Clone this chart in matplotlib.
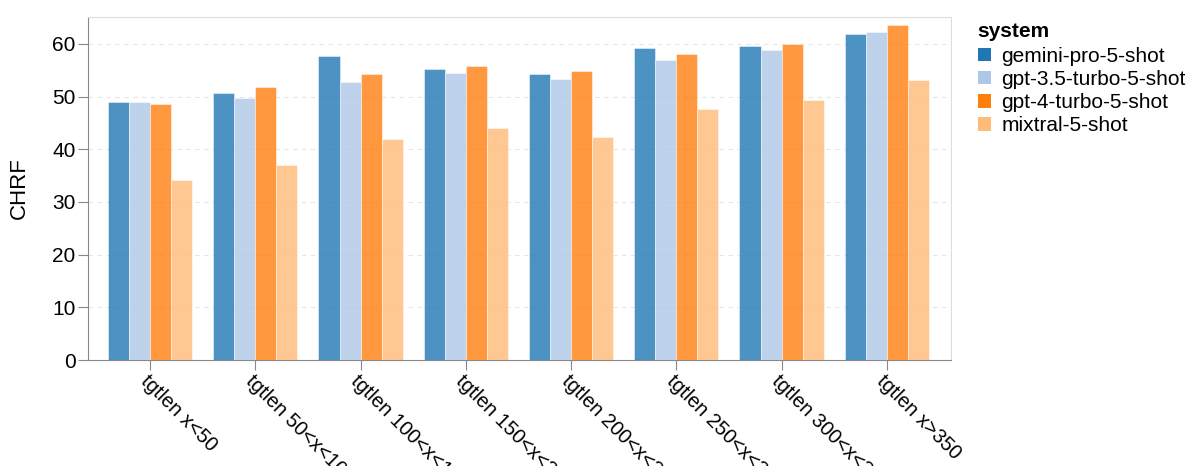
import matplotlib.pyplot as plt
import numpy as np

plt.rcParams['font.family'] = ['Liberation Sans', 'DejaVu Sans']

groups = ['tgtlen x<50', 'tgtlen 50<x<100', 'tgtlen 100<x<150', 'tgtlen 150<x<200',
          'tgtlen 200<x<250', 'tgtlen 250<x<300', 'tgtlen 300<x<350', 'tgtlen x>350']
systems = ['gemini-pro-5-shot', 'gpt-3.5-turbo-5-shot', 'gpt-4-turbo-5-shot', 'mixtral-5-shot']
colors = ['#1f77b4', '#aec7e8', '#ff7f0e', '#ffbb78']

gemini = [49.0, 50.6, 57.7, 55.2, 54.3, 59.3, 59.6, 61.9]
gpt35 = [49.0, 49.8, 52.7, 54.4, 53.4, 57.0, 58.9, 62.2]
gpt4 = [48.5, 51.9, 54.3, 55.8, 54.9, 58.1, 60.0, 63.5]
mixtral = [34.2, 37.1, 42.0, 44.1, 42.4, 47.6, 49.3, 53.1]
values = [gemini, gpt35, gpt4, mixtral]

fig = plt.figure(figsize=(11.96, 4.66), dpi=100)
ax = fig.add_axes([88/1196, 106/466, 863/1196, 343/466])

x = np.arange(len(groups))
w = 0.2
for i, (name, vals) in enumerate(zip(systems, values)):
    ax.bar(x + (i - 1.5) * w, vals, width=w, color=colors[i], alpha=0.8,
           edgecolor='white', linewidth=0.4, label=name, zorder=3)

ax.set_xlim(-0.59, len(groups) - 0.39)
ax.set_ylim(0, 65.1)
ax.set_yticks(range(0, 61, 10))
ax.yaxis.grid(True, linestyle=(0, (4, 4)), color='#e6e6e6', linewidth=0.8, zorder=0)
ax.set_xticks(x)
ax.set_xticklabels(groups, rotation=-45, ha='left', va='top', rotation_mode='anchor')
ax.tick_params(axis='both', labelsize=15, color='#888888', length=7, width=0.8, pad=2)
ax.tick_params(axis='x', labelsize=14.5, pad=1)
ax.set_ylabel('CHRF', fontsize=16, labelpad=16)

ax.spines['left'].set_color('#888888')
ax.spines['bottom'].set_color('#888888')
ax.spines['top'].set_color('#dddddd')
ax.spines['right'].set_color('#dddddd')

leg = ax.legend(loc='upper left', bbox_to_anchor=(1.031, 0.985), frameon=False,
                title='system', fontsize=15, handlelength=0.63, handleheight=0.63,
                handletextpad=0.5, labelspacing=0.2, borderaxespad=0, borderpad=0)
leg.get_title().set_fontweight('bold')
leg.get_title().set_fontsize(15)
leg._legend_box.align = 'left'
leg._legend_box.sep = 4
for h in leg.legend_handles:
    h.set_alpha(1.0)
    h.set_edgecolor('none')

fig.savefig('out.png', dpi=100)
